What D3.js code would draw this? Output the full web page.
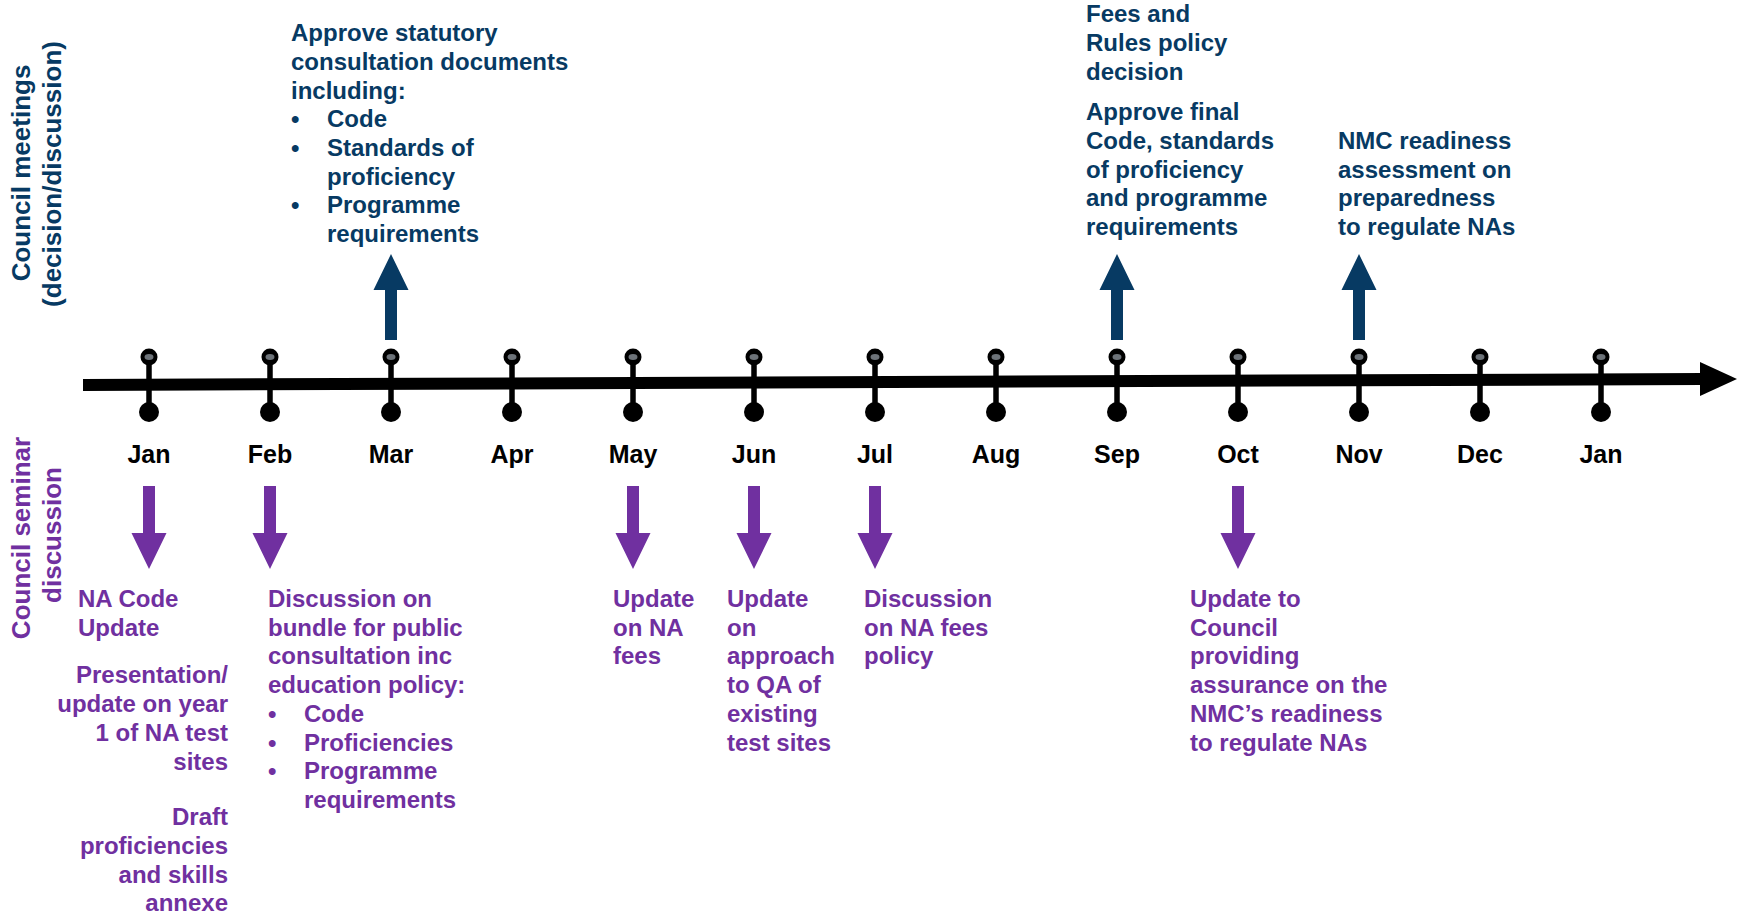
<!DOCTYPE html>
<html>
<head>
<meta charset="utf-8">
<script src="https://cdn.jsdelivr.net/npm/d3@7"></script>
<style>
    body { margin: 0; background: #fff; }
    text { font-family: "Liberation Sans", Arial, sans-serif; font-weight: bold; }
</style>
</head>
<body>
<script>
// Set up the SVG
var width = 1742;
var height = 916;

// timeline months (a full year plus the following January)
var months = ["Jan", "Feb", "Mar", "Apr", "May", "Jun", "Jul", "Aug", "Sep", "Oct", "Nov", "Dec", "Jan"];

// Council meetings (above the line) - month index + note paragraphs
var meetingMonths = [2, 8, 10];
var meetingNotes = [
    [
        {lines: ["Approve statutory", "consultation documents", "including:"]},
        {bullet: true, lines: ["Code"]},
        {bullet: true, lines: ["Standards of", "proficiency"]},
        {bullet: true, lines: ["Programme", "requirements"]}
    ],
    [
        {lines: ["Fees and", "Rules policy", "decision"]},
        {lines: ["Approve final", "Code, standards", "of proficiency", "and programme", "requirements"]}
    ],
    [
        {lines: ["NMC readiness", "assessment on", "preparedness", "to regulate NAs"]}
    ]
];

// Council seminar discussions (below the line)
var seminarMonths = [0, 1, 4, 5, 6, 9];
var seminarNotes = [
    [
        {lines: ["NA Code", "Update"]},
        {lines: ["Presentation/", "update on year", "1 of NA test", "sites"]},
        {lines: ["Draft", "proficiencies", "and skills", "annexe"]}
    ],
    [
        {lines: ["Discussion on", "bundle for public", "consultation inc", "education policy:"]},
        {bullet: true, lines: ["Code"]},
        {bullet: true, lines: ["Proficiencies"]},
        {bullet: true, lines: ["Programme", "requirements"]}
    ],
    [
        {lines: ["Update", "on NA", "fees"]}
    ],
    [
        {lines: ["Update", "on", "approach", "to QA of", "existing", "test sites"]}
    ],
    [
        {lines: ["Discussion", "on NA fees", "policy"]}
    ],
    [
        {lines: ["Update to", "Council", "providing", "assurance on the", "NMC\u2019s readiness", "to regulate NAs"]}
    ]
];

//custom look
var navy = "#073a63";
var purple = "#7030a0";
var lineHeight = 28.7;
var bulletIndent = 36;
var noteFontSize = 24;

// where each note sits relative to its arrow (dx), per paragraph where needed
var meetingLayout = [
    {dx: -100, bottom: 242},
    {dx: -31, bottom: 235, gap: [0, 12]},
    {dx: -21, bottom: 235}
];
var seminarLayout = [
    {dx: [-71, 79, 79], anchor: ["start", "end", "end"], gap: [0, 19, 27]},
    {dx: -2},
    {dx: -20},
    {dx: -27},
    {dx: -11},
    {dx: -48}
];

var svg = d3.select("body").append("svg")
    .attr("width", width)
    .attr("height", height);

var x = d3.scaleLinear().domain([0, months.length - 1]).range([149, 1601]);

// main timeline (drawn very slightly tilted, as in the slide)
var axisStart = 83, axisEnd = 1700, axisTip = 1737;
var axisY = d3.scaleLinear().domain([axisStart, axisEnd]).range([385, 379]);

svg.append("line")
    .attr("x1", axisStart).attr("y1", axisY(axisStart))
    .attr("x2", axisEnd + 2).attr("y2", axisY(axisEnd))
    .attr("stroke", "#000")
    .attr("stroke-width", 12);

svg.append("path")
    .attr("d", "M" + axisEnd + "," + (axisY(axisEnd) - 17) +
        "L" + axisTip + "," + axisY(axisEnd) +
        "L" + axisEnd + "," + (axisY(axisEnd) + 17) + "Z")
    .attr("fill", "#000");

// month ticks
var tickTop = 357, tickBottom = 412;
var ticks = svg.append("g").attr("class", "ticks")
    .selectAll("g")
    .data(months)
    .enter().append("g")
    .attr("transform", function (d, i) { return "translate(" + x(i) + ",0)"; });

ticks.append("line")
    .attr("y1", tickTop).attr("y2", tickBottom)
    .attr("stroke", "#000")
    .attr("stroke-width", 5.5);

ticks.append("circle")
    .attr("cy", tickTop)
    .attr("r", 8.5)
    .attr("fill", "#000");

ticks.append("ellipse")
    .attr("cy", tickTop)
    .attr("rx", 4.5).attr("ry", 3)
    .attr("fill", "#6d7379");

ticks.append("circle")
    .attr("cy", tickBottom)
    .attr("r", 10)
    .attr("fill", "#000");

ticks.append("text")
    .attr("y", 463)
    .attr("text-anchor", "middle")
    .style("font-size", "25px")
    .attr("fill", "#000")
    .text(function (d) { return d; });

// block arrows
function arrowPath(cx, tail, base, tip) {
    var sw = 6, hw = 17.5;
    return "M" + (cx - sw) + "," + tail +
        "L" + (cx - sw) + "," + base +
        "L" + (cx - hw) + "," + base +
        "L" + cx + "," + tip +
        "L" + (cx + hw) + "," + base +
        "L" + (cx + sw) + "," + base +
        "L" + (cx + sw) + "," + tail + "Z";
}

svg.append("g").attr("class", "up-arrows")
    .selectAll("path")
    .data(meetingMonths)
    .enter().append("path")
    .attr("d", function (d) { return arrowPath(x(d), 340, 290, 254); })
    .attr("fill", navy);

svg.append("g").attr("class", "down-arrows")
    .selectAll("path")
    .data(seminarMonths)
    .enter().append("path")
    .attr("d", function (d) { return arrowPath(x(d), 486, 533, 569); })
    .attr("fill", purple);

// lay out the lines of a note; returns list of {text, x, y, anchor}
function layoutNote(note, cx, layout, firstBaseline) {
    var out = [];
    var y = firstBaseline;
    note.forEach(function (para, p) {
        var dx = Array.isArray(layout.dx) ? layout.dx[p] : layout.dx;
        var anchor = layout.anchor ? layout.anchor[p] : "start";
        var gap = layout.gap ? layout.gap[p] : 0;
        if (p > 0) y += gap;
        para.lines.forEach(function (line, l) {
            if (para.bullet && l === 0) {
                out.push({text: "\u2022", x: cx + dx, y: y, anchor: "start"});
            }
            out.push({text: line, x: cx + dx + (para.bullet ? bulletIndent : 0), y: y, anchor: anchor});
            y += lineHeight;
        });
    });
    return out;
}

function countLines(note, layout) {
    var n = 0, extra = 0;
    note.forEach(function (para, p) {
        n += para.lines.length;
        if (layout.gap && p > 0) extra += layout.gap[p];
    });
    return {n: n, extra: extra};
}

// meeting notes are bottom-aligned just above the arrows
var meetingLines = [];
meetingNotes.forEach(function (note, i) {
    var c = countLines(note, meetingLayout[i]);
    var first = meetingLayout[i].bottom - (c.n - 1) * lineHeight - c.extra;
    meetingLines = meetingLines.concat(layoutNote(note, x(meetingMonths[i]), meetingLayout[i], first));
});

var seminarLines = [];
seminarNotes.forEach(function (note, i) {
    seminarLines = seminarLines.concat(layoutNote(note, x(seminarMonths[i]), seminarLayout[i], 607));
});

function drawLines(data, color, cls) {
    svg.append("g").attr("class", cls)
        .selectAll("text")
        .data(data)
        .enter().append("text")
        .attr("x", function (d) { return d.x; })
        .attr("y", function (d) { return d.y; })
        .attr("text-anchor", function (d) { return d.anchor; })
        .attr("fill", color)
        .style("font-size", noteFontSize + "px")
        .text(function (d) { return d.text; });
}

drawLines(meetingLines, navy, "meeting-notes");
drawLines(seminarLines, purple, "seminar-notes");

// rotated row labels on the left
var sideLabels = [
    {text: "Council meetings", x: 30, y: 173, color: navy},
    {text: "(decision/discussion)", x: 61, y: 174, color: navy},
    {text: "Council seminar", x: 30, y: 538, color: purple},
    {text: "discussion", x: 61, y: 535, color: purple}
];

svg.append("g").attr("class", "side-labels")
    .selectAll("text")
    .data(sideLabels)
    .enter().append("text")
    .attr("transform", function (d) { return "translate(" + d.x + "," + d.y + ") rotate(-90)"; })
    .attr("text-anchor", "middle")
    .attr("fill", function (d) { return d.color; })
    .style("font-size", "26px")
    .text(function (d) { return d.text; });
</script>
</body>
</html>
